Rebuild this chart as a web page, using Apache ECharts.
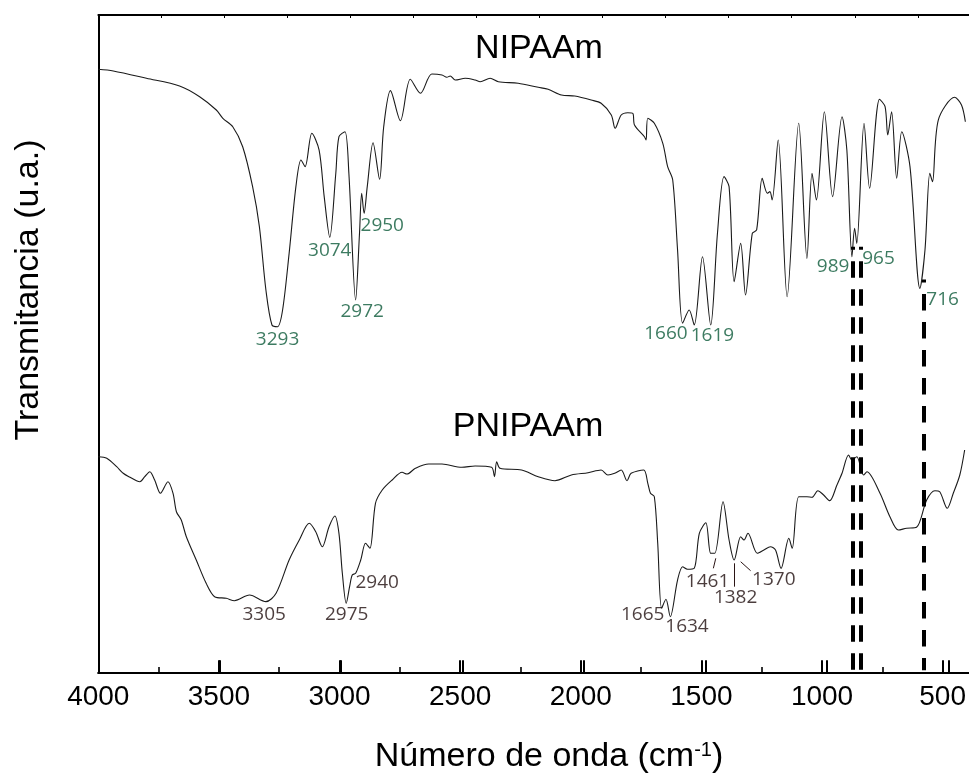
<!DOCTYPE html>
<html><head><meta charset="utf-8">
<script src="https://cdn.jsdelivr.net/npm/echarts@6/dist/echarts.min.js"></script>
<style>html,body{margin:0;padding:0;background:#fff}#c{width:969px;height:774px}</style>
</head><body><div id="c"></div><script>
// NIPAAm spectrum (wavenumber cm-1, transmittance a.u.)
const nipaamWn=[4000,3938,3801,3664,3581,3512,3485,3444,3403,3362,3334,3307,3282,3259,3238,3211,3183,3162,3145,3117,3087,3066,3043,3018,3005,2980,2964,2936,2920,2911,2901,2888,2864,2837,2820,2792,2751,2710,2668,2621,2579,2559,2545,2524,2483,2442,2421,2380,2346,2264,2181,2140,2085,2030,1962,1921,1879,1863,1838,1811,1790,1783,1742,1735,1728,1701,1666,1646,1625,1605,1584,1557,1536,1502,1468,1440,1413,1392,1371,1344,1324,1296,1278,1255,1234,1223,1214,1189,1152,1104,1070,1049,1031,998,964,925,905,884,873,864,834,811,770,747,736,720,699,678,644,603,582,562,551,527,459,431,415];
const nipaamT=[91.75,91.49,90.38,89.21,87.58,85.56,84.30,83.02,79.98,73.91,67.83,58.21,52.89,52.63,55.17,63.78,73.91,77.96,76.95,82.02,79.48,72.39,66.22,75.94,81.50,82.26,75.94,56.69,66.82,72.90,69.86,73.91,80.59,75.03,83.02,88.50,83.94,90.23,88.10,91.03,90.88,90.53,90.73,90.12,90.38,90.12,89.86,90.38,89.86,89.62,89.01,88.71,87.84,87.69,87.08,86.58,84.80,82.78,84.80,85.15,85.06,83.28,81.50,81.00,84.30,83.54,80.50,76.95,74.92,64.29,53.15,55.17,52.89,63.27,52.89,66.82,75.43,73.91,59.47,65.30,57.45,66.82,67.33,75.18,72.90,73.15,71.88,81.00,57.19,83.54,63.02,75.94,71.88,85.30,72.39,84.54,79.48,63.27,67.58,65.30,83.54,73.66,87.19,86.06,81.76,85.30,75.18,82.26,76.95,58.46,64.29,75.94,74.67,84.04,87.49,86.32,83.78];
// PNIPAAm spectrum
const pnipaamWn=[4000,3965,3924,3897,3869,3842,3828,3808,3787,3767,3743,3712,3691,3677,3657,3636,3595,3554,3519,3471,3437,3375,3307,3265,3211,3169,3128,3101,3074,3046,3022,3005,2991,2975,2961,2950,2936,2915,2895,2877,2854,2826,2785,2744,2724,2689,2634,2579,2497,2442,2374,2362,2353,2339,2250,2181,2112,2044,1975,1921,1893,1865,1838,1814,1797,1745,1728,1717,1701,1687,1671,1653,1635,1605,1584,1564,1536,1515,1488,1468,1451,1417,1392,1371,1344,1330,1314,1275,1248,1221,1200,1177,1145,1131,1104,1070,1049,1025,1001,976,946,925,898,884,864,836,822,768,727,692,658,617,575,541,521,490,465,438,418];
const pnipaamT=[32.87,32.63,31.35,30.35,29.74,29.22,29.07,29.83,30.59,29.33,27.31,29.07,27.31,24.51,23.25,20.71,17.17,13.63,11.60,11.35,10.99,11.85,10.84,12.11,17.17,20.21,22.75,21.47,19.19,22.23,23.86,21.23,15.15,10.59,13.12,14.89,15.15,17.17,19.71,18.95,25.79,27.81,29.33,30.50,30.24,31.11,31.76,31.76,31.26,31.46,31.26,29.83,32.11,31.11,30.85,29.83,29.22,30.09,30.44,30.85,30.09,30.35,30.85,29.22,30.35,30.85,28.83,27.31,26.79,19.71,9.83,11.20,8.56,14.13,16.15,15.76,15.91,21.23,22.84,18.19,18.19,26.03,20.21,17.17,20.71,20.21,21.23,18.19,18.69,19.19,18.69,15.91,20.47,18.95,26.79,26.79,26.70,27.70,27.05,26.19,28.57,30.35,33.13,32.37,32.87,30.09,30.59,27.31,23.75,21.73,21.99,22.14,26.29,27.70,27.55,25.03,27.31,30.09,33.89];
// Peak annotations
const peakTopText=['3293','3074','2972','2950','1660','1619','989','965','716'];
const peakTopWn=[3259,3043,2909,2826,1653,1461,962,774,509];
const peakTopT=[50.61,64.18,54.91,67.93,51.63,51.22,61.75,63.02,56.69];
const peakBotText=['3305','2975','2940','1665','1634','1461','1382','1370'];
const peakBotWn=[3314,2973,2847,1749,1566,1481,1365,1207];
const peakBotT=[8.81,8.81,13.72,8.81,7.04,13.88,11.50,14.13];
// dashed guide lines
const guideWn=[880,847,588];
const guideTopT=[64.79,64.79,59.80];
const guideBotT=0.4;
// leader lines for PNIPAAm labels
const leaderFrom=[[1447,17.43],[1369,16.67],[1344,16.91]];
const leaderTo=[[1457,15.91],[1369,13.12],[1303,15.55]];
// axis ticks
const xTickMin=500, xTickMax=4000, xTickStep=500;

const pairs=(a,b)=>a.map((v,i)=>[v,b[i]]);
const chart=echarts.init(document.getElementById('c'),null,{renderer:'canvas'});
const F='"Liberation Sans", Arial, sans-serif';
const LF='"Open Sans", sans-serif';
chart.setOption({
  animation:false,
  backgroundColor:'#fff',
  grid:[
    {left:98.3,right:20.7,top:15,bottom:101},
    {left:98.3,right:-3.6,top:15,bottom:101},
    {left:98.3,right:20.7,top:660.3,bottom:101}
  ],
  xAxis:[
    {gridIndex:0,type:'value',min:xTickMin,max:xTickMax,interval:xTickStep,inverse:true,
     axisLine:{show:true,lineStyle:{color:'#000',width:1.8}},
     axisTick:{show:true,inside:true,length:12.7,lineStyle:{color:'#000',width:2}},
     minorTick:{show:true,splitNumber:2,length:6,lineStyle:{color:'#000',width:1.6}},
     axisLabel:{show:true,color:'#000',fontSize:28,fontFamily:F,margin:10,formatter:v=>String(v)},
     splitLine:{show:false}},
    {gridIndex:1,type:'value',min:400,max:4000,inverse:true,position:'bottom',
     axisLine:{show:true,lineStyle:{color:'#000',width:1.8}},
     axisTick:{show:false},axisLabel:{show:false},splitLine:{show:false}},
    {gridIndex:1,type:'value',min:0,max:3453,interval:250,position:'top',
     axisLine:{show:true,lineStyle:{color:'#000',width:1.8}},
     axisTick:{show:true,inside:true,length:3,lineStyle:{color:'#000',width:1}},
     axisLabel:{show:false},splitLine:{show:false}},
    {gridIndex:2,type:'value',min:xTickMin,max:xTickMax,interval:xTickStep,inverse:true,
     axisLine:{show:false},axisTick:{show:false},axisLabel:{show:false},
     splitLine:{show:true,lineStyle:{color:'#000',width:2,type:'solid'}}}
  ],
  yAxis:[
    {gridIndex:0,type:'value',min:0,max:100,show:false},
    {gridIndex:1,type:'value',min:0,max:100,
     axisLine:{show:true,lineStyle:{color:'#000',width:2}},
     axisTick:{show:false},axisLabel:{show:false},splitLine:{show:false}},
    {gridIndex:2,type:'value',min:0,max:1,show:false}
  ],
  series:[
    {type:'line',xAxisIndex:1,yAxisIndex:1,data:pairs(nipaamWn,nipaamT),showSymbol:false,smooth:0.3,
     lineStyle:{color:'#1a1a1a',width:1.1},
     markLine:{silent:true,symbol:['none','none'],label:{show:false},animation:false,
       lineStyle:{color:'#000',width:4,type:[16.5,11.5],dashOffset:13.5,cap:'butt'},
       data:guideWn.map((w,i)=>[{coord:[w,guideTopT[i]]},{coord:[w,guideBotT]}])}},
    {type:'line',xAxisIndex:1,yAxisIndex:1,data:pairs(pnipaamWn,pnipaamT),showSymbol:false,smooth:0.3,
     lineStyle:{color:'#1a1a1a',width:1.1},
     markLine:{silent:true,symbol:['none','none'],label:{show:false},animation:false,
       lineStyle:{color:'#2a1414',width:1,type:'solid'},
       data:leaderFrom.map((f,i)=>[{coord:f},{coord:leaderTo[i]}])}},
    {type:'scatter',xAxisIndex:1,yAxisIndex:1,symbolSize:1,itemStyle:{color:'rgba(0,0,0,0)'},silent:true,
     data:peakTopText.map((t,i)=>({name:t,value:[peakTopWn[i],peakTopT[i]]})),
     label:{show:true,position:'inside',formatter:'{b}',color:'#0d5a3a',fontSize:19,fontFamily:LF}},
    {type:'scatter',xAxisIndex:1,yAxisIndex:1,symbolSize:1,itemStyle:{color:'rgba(0,0,0,0)'},silent:true,
     data:peakBotText.map((t,i)=>({name:t,value:[peakBotWn[i],peakBotT[i]]})),
     label:{show:true,position:'inside',formatter:'{b}',color:'#1e0c0c',fontSize:19,fontFamily:LF}}
  ],
  graphic:[
    {type:'text',x:539,y:49,style:{text:'NIPAAm',font:'34px '+F,fill:'#000',align:'center',verticalAlign:'middle',textAlign:'center',textVerticalAlign:'middle'}},
    {type:'text',x:528,y:427,style:{text:'PNIPAAm',font:'34px '+F,fill:'#000',align:'center',verticalAlign:'middle',textAlign:'center',textVerticalAlign:'middle'}},
    {type:'text',x:549,y:757,style:{text:'{a|Número de onda (cm}{s|-1}{a|)}',align:'center',verticalAlign:'middle',textAlign:'center',textVerticalAlign:'middle',
      rich:{a:{fontSize:34,fontFamily:F,fill:'#000',color:'#000'},s:{fontSize:20,fontFamily:F,fill:'#000',color:'#000',verticalAlign:'top'}}}},
    {type:'text',x:29,y:290,rotation:Math.PI/2,style:{text:'Transmitancia (u.a.)',font:'34px '+F,fill:'#000',align:'center',verticalAlign:'middle',textAlign:'center',textVerticalAlign:'middle'}}
  ]
});
</script></body></html>
